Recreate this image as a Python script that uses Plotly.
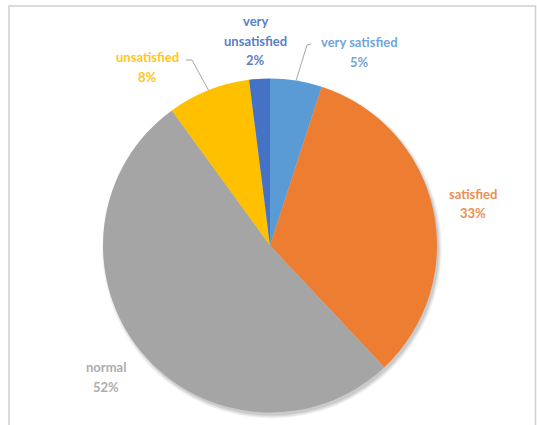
import math
import plotly.graph_objects as go

# Survey satisfaction shares, clockwise from 12 o'clock
categories = ["very satisfied", "satisfied", "normal", "unsatisfied", "very unsatisfied"]
shares = [5, 33, 52, 8, 2]
colors = ["#5B9BD5", "#ED7D31", "#A5A5A5", "#FFC000", "#4472C4"]
label_colors = ["#6FA6DA", "#EE8E4F", "#ADADAD", "#FFC61A", "#5A80C8"]

W, H = 537, 425
CX, CY, R = 270, 245.5, 167  # pie centre / radius in pixels
LINE_GAP = 19.5


def px(x):
    return x / W


def py(y):
    return 1 - y / H


fig = go.Figure()
fig.add_trace(go.Pie(
    labels=categories,
    values=shares,
    sort=False,
    direction="clockwise",
    rotation=0,
    marker=dict(colors=colors, line=dict(width=0)),
    textinfo="none",
    hoverinfo="label+percent",
    showlegend=False,
    domain=dict(x=[px(CX - R), px(CX + R)], y=[py(CY + R), py(CY - R)]),
))

# label placement (text block centre in pixels) and optional leader line
label_pos = {
    "very satisfied": (359, 52, True, (311, 44), (307, 45)),
    "satisfied": (473, 203.5, False, None, None),
    "normal": (106, 377, False, None, None),
    "unsatisfied": (147, 67, True, (186, 60), (192, 60)),
    "very unsatisfied": (255, 40.5, False, None, None),
}

total = sum(shares)
shapes = []

# soft drop shadow under the pie
for off, a in [(5, 0.04), (4, 0.05), (3, 0.06), (2, 0.07)]:
    r = R + off - 2
    shapes.append(dict(
        type="circle", xref="paper", yref="paper", layer="below",
        x0=px(CX + 2 - r), x1=px(CX + 2 + r),
        y0=py(CY + 3 + r), y1=py(CY + 3 - r),
        fillcolor=f"rgba(0,0,0,{a})", line=dict(width=0),
    ))

annotations = []
cum = 0
for name, val, col in zip(categories, shares, label_colors):
    mid = (cum + val / 2) / total * 2 * math.pi
    cum += val
    tx, ty, leader, end, knee = label_pos[name]
    pct = round(val / total * 100)
    lines = (["very", "unsatisfied"] if name == "very unsatisfied" else [name]) + [f"{pct}%"]
    n = len(lines)
    for i, line in enumerate(lines):
        y = ty + (i - (n - 1) / 2) * LINE_GAP
        annotations.append(dict(
            x=px(tx), y=py(y), xref="paper", yref="paper",
            text=f"<b>{line}</b>", showarrow=False,
            font=dict(family="Lato", size=13, color=col),
            xanchor="center", yanchor="middle",
        ))
    if leader:
        sx = CX + R * math.sin(mid)
        sy = CY - R * math.cos(mid)
        path = (f"M {px(sx)} {py(sy)} L {px(knee[0])} {py(knee[1])} "
                f"L {px(end[0])} {py(end[1])}")
        shapes.append(dict(
            type="path", xref="paper", yref="paper", path=path,
            line=dict(color="#A6A6A6", width=1),
        ))

# chart frame
shapes.append(dict(
    type="rect", xref="paper", yref="paper",
    x0=px(9), x1=px(535.5), y0=py(440), y1=py(6),
    line=dict(color="#D0D0D0", width=1.5),
))

fig.update_layout(
    width=W, height=H,
    margin=dict(l=0, r=0, t=0, b=0),
    paper_bgcolor="white",
    plot_bgcolor="white",
    shapes=shapes,
    annotations=annotations,
)

fig.write_html("out.html")
